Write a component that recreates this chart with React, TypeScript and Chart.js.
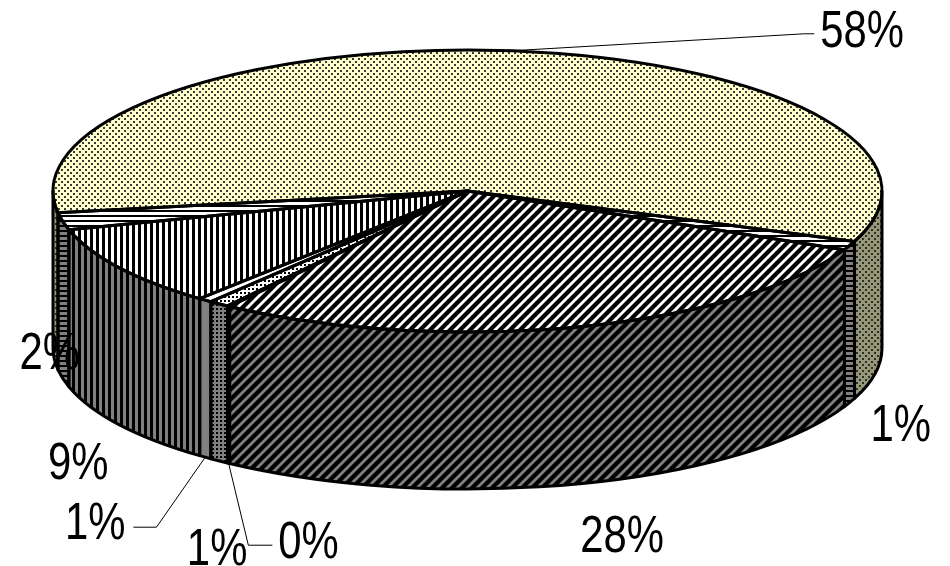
import React, { useEffect, useRef } from 'react';
import { Chart, registerables } from 'chart.js';

Chart.register(...registerables);

// ---------- data ----------
const categories = ['Part A', 'Part B', 'Part C', 'Part D', 'Part E', 'Part F', 'Part G', 'Part H'];
const values = [58.3, 1.0, 27.9, 0.1, 0.8, 0.55, 9.4, 1.95];
const rotationDeg = -98.9;

// ---------- style ----------
const X_STRETCH = 414.5 / 141; // horizontal semi-axis / vertical semi-axis
const DEPTH = 157;
const FONT_PX = 51;
const TEXT_SQUEEZE = 0.82;
// label offset from its slice anchor (text centre), leader length (0 = none)
const labelOffsets: [number, number][] = [
  [351, -22], [51, 20], [46, 50], [80, 77], [-2, 86], [-110, 64], [-41, 36], [-13, -28],
];
const leaderLen = [10, 0, 0, 24, 0, 23, 0, 0];

type Kind = 'dots' | 'hstripe' | 'diag' | 'check' | 'fine' | 'solid' | 'vstripe';
const kinds: Kind[] = ['dots', 'hstripe', 'diag', 'check', 'fine', 'solid', 'vstripe', 'hstripe'];
const topBg = ['#FFFFCC', '#FFFFFF', '#FFFFFF', '#FFFFFF', '#FFFFFF', '#FFFFFF', '#FFFFFF', '#FFFFFF'];
const sideBg = ['#97977A', '#808080', '#808080', '#808080', '#808080', '#808080', '#808080', '#808080'];

function makeTile(kind: Kind, bg: string, fg: string): HTMLCanvasElement {
  const c = document.createElement('canvas');
  let w = 6, h = 6;
  if (kind === 'hstripe') { w = 1; h = 5; }
  if (kind === 'vstripe') { w = 6; h = 1; }
  if (kind === 'diag') { w = 10; h = 10; }
  if (kind === 'fine') { w = 4; h = 4; }
  if (kind === 'check') { w = 2; h = 2; }
  c.width = w; c.height = h;
  const g = c.getContext('2d')!;
  g.fillStyle = bg;
  g.fillRect(0, 0, w, h);
  g.fillStyle = fg;
  g.strokeStyle = fg;
  if (kind === 'dots') {
    g.fillRect(1, 1, 2, 2);
    g.fillRect(4, 4, 2, 2);
  } else if (kind === 'hstripe') {
    g.fillRect(0, 0, 1, 2);
  } else if (kind === 'vstripe') {
    g.fillRect(0, 0, 3, 1);
  } else if (kind === 'diag') {
    g.lineWidth = 4.2;
    for (let k = -1; k <= 3; k++) {
      const cc = k * 10;
      g.beginPath();
      g.moveTo(cc + 2, -2);
      g.lineTo(cc - 12, 12);
      g.stroke();
    }
  } else if (kind === 'fine') {
    g.fillRect(0, 0, 2, 2);
  } else if (kind === 'check') {
    g.fillRect(0, 0, 1, 1);
  }
  return c;
}

function frontSegments(s: number, e: number): [number, number][] {
  const out: [number, number][] = [];
  for (let n = -2; n <= 2; n++) {
    const lo = Math.max(s, n * 2 * Math.PI);
    const hi = Math.min(e, n * 2 * Math.PI + Math.PI);
    if (hi > lo) out.push([lo, hi]);
  }
  return out;
}

function wallPath(ctx: CanvasRenderingContext2D, cx: number, cy: number, A: number, B: number, a1: number, a2: number) {
  ctx.beginPath();
  ctx.ellipse(cx, cy, A, B, 0, a1, a2, false);
  ctx.lineTo(cx + A * Math.cos(a2), cy + DEPTH + B * Math.sin(a2));
  ctx.ellipse(cx, cy + DEPTH, A, B, 0, a2, a1, true);
  ctx.closePath();
}

export default function App() {
  const ref = useRef<HTMLCanvasElement>(null);

  useEffect(() => {
    document.body.style.margin = '0';
    const canvas = ref.current!;
    const ctx0 = canvas.getContext('2d')!;
    const topPatterns = kinds.map((k, i) => ctx0.createPattern(makeTile(k, topBg[i], i === 0 ? '#3a3a3a' : '#000000'), 'repeat')!);
    const sidePatterns = kinds.map((k, i) => ctx0.createPattern(makeTile(k, sideBg[i], i === 0 ? '#2e2e22' : '#000000'), 'repeat')!);
    const total = values.reduce((a, b) => a + b, 0);

    const pie3d = {
      id: 'pie3d',
      beforeDatasetsDraw(chart: any) {
        const ctx: CanvasRenderingContext2D = chart.ctx;
        const arcs = chart.getDatasetMeta(0).data as any[];
        const cx = arcs[0].x, cy = arcs[0].y, B = arcs[0].outerRadius, A = B * X_STRETCH;
        arcs.forEach((arc, i) => {
          frontSegments(arc.startAngle, arc.endAngle).forEach(([a1, a2]) => {
            wallPath(ctx, cx, cy, A, B, a1, a2);
            ctx.fillStyle = sidePatterns[i];
            ctx.fill();
          });
        });
        const m = new DOMMatrix([1 / X_STRETCH, 0, 0, 1, cx - cx / X_STRETCH, 0]);
        topPatterns.forEach((p) => p.setTransform(m));
        ctx.save();
        ctx.translate(cx, 0);
        ctx.scale(X_STRETCH, 1);
        ctx.translate(-cx, 0);
      },
      afterDatasetsDraw(chart: any) {
        const ctx: CanvasRenderingContext2D = chart.ctx;
        ctx.restore();
        const arcs = chart.getDatasetMeta(0).data as any[];
        const cx = arcs[0].x, cy = arcs[0].y, B = arcs[0].outerRadius, A = B * X_STRETCH;
        ctx.save();
        ctx.strokeStyle = '#000';
        ctx.lineWidth = 3;
        ctx.lineJoin = 'round';
        // wall outlines
        arcs.forEach((arc) => {
          frontSegments(arc.startAngle, arc.endAngle).forEach(([a1, a2]) => {
            wallPath(ctx, cx, cy, A, B, a1, a2);
            ctx.stroke();
          });
        });
        // top face outlines
        arcs.forEach((arc) => {
          ctx.beginPath();
          ctx.moveTo(cx, cy);
          ctx.lineTo(cx + A * Math.cos(arc.startAngle), cy + B * Math.sin(arc.startAngle));
          ctx.ellipse(cx, cy, A, B, 0, arc.startAngle, arc.endAngle, false);
          ctx.closePath();
          ctx.stroke();
        });
        ctx.restore();

        // labels
        ctx.save();
        ctx.font = `${FONT_PX}px "Liberation Sans", Arial, sans-serif`;
        ctx.fillStyle = '#000';
        ctx.textAlign = 'center';
        ctx.textBaseline = 'alphabetic';
        const capH = FONT_PX * 0.716;
        arcs.forEach((arc, i) => {
          const m = (arc.startAngle + arc.endAngle) / 2;
          const ax = cx + A * Math.cos(m);
          const ay = cy + B * Math.sin(m) + (Math.sin(m) < 0 ? 0 : DEPTH);
          const tx = ax + labelOffsets[i][0];
          const ty = ay + labelOffsets[i][1];
          const text = Math.round((values[i] / total) * 100) + '%';
          const w = ctx.measureText(text).width * TEXT_SQUEEZE;
          if (leaderLen[i] > 0) {
            let ex: number, ey: number, bx: number;
            if (tx > ax) { ex = tx - w / 2 - 6; ey = ty + 5; bx = ex - leaderLen[i]; }
            else { ex = tx + w / 2 + 8; ey = ty + 6; bx = ex + leaderLen[i]; }
            ctx.save();
            ctx.lineWidth = 1;
            ctx.strokeStyle = '#000';
            ctx.beginPath();
            ctx.moveTo(ax, ay);
            ctx.lineTo(bx, ey);
            ctx.lineTo(ex, ey);
            ctx.stroke();
            ctx.restore();
          }
          ctx.save();
          ctx.translate(tx, ty + capH / 2);
          ctx.scale(TEXT_SQUEEZE, 1);
          ctx.fillText(text, 0, 0);
          ctx.restore();
        });
        ctx.restore();
      },
    };

    const chart = new Chart(canvas, {
      type: 'pie',
      data: {
        labels: categories,
        datasets: [{
          data: values,
          backgroundColor: topPatterns as any,
          borderWidth: 0,
          hoverOffset: 0,
          offset: 0,
          rotation: rotationDeg,
          clip: false as any,
        }],
      },
      options: {
        responsive: false,
        animation: false,
        devicePixelRatio: 1,
        events: [],
        radius: 141,
        rotation: rotationDeg,
        layout: { padding: { left: 0, right: 15, top: 0, bottom: 184 } },
        plugins: { legend: { display: false }, tooltip: { enabled: false } },
      } as any,
      plugins: [pie3d],
    });
    return () => chart.destroy();
  }, []);

  return (
    <div style={{ width: 950, height: 566, background: '#fff' }}>
      <canvas ref={ref} width={950} height={566} style={{ display: 'block' }} />
    </div>
  );
}
